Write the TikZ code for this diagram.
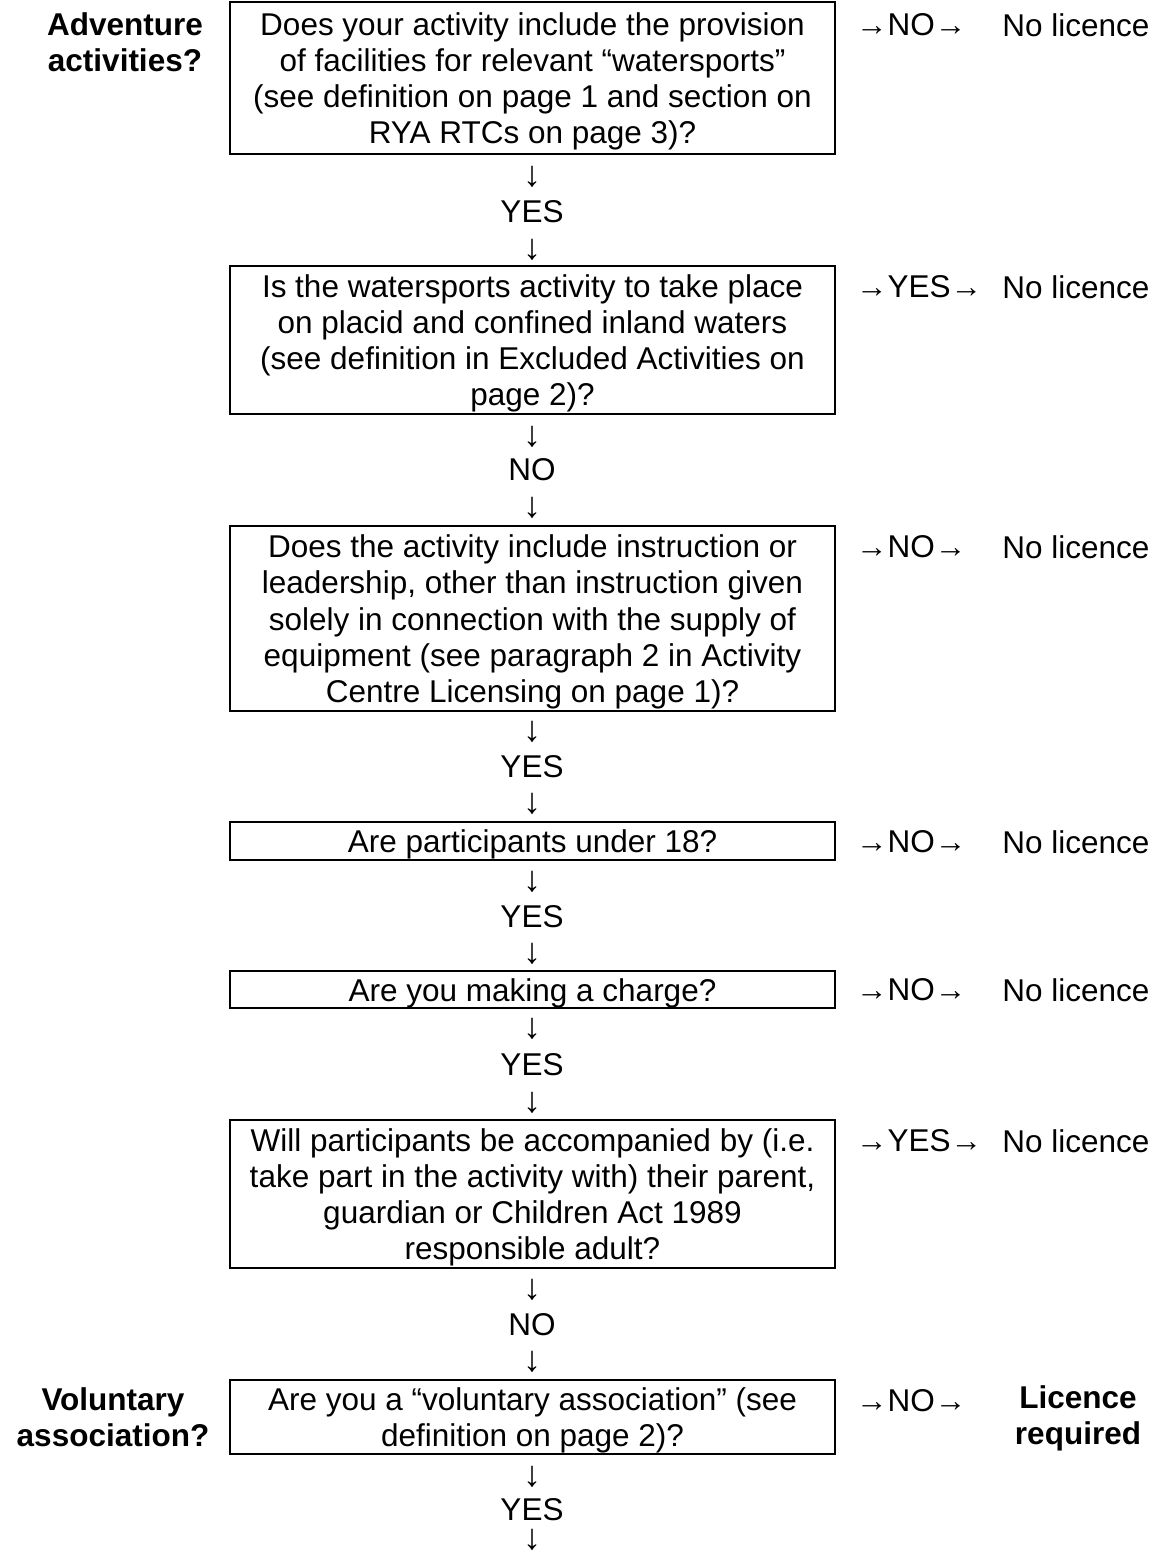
\documentclass[tikz,border=0pt]{standalone}
\usepackage{fontspec}
\setmainfont{Liberation Sans}
\newcommand\mainfs{\fontsize{31.5}{36.2}\selectfont}
\newcommand\downfs{\fontsize{36}{40}\selectfont}
\tikzset{
  qbox/.style={draw=black, line width=2pt, minimum width=605pt, inner sep=0pt},
  qtext/.style={inner sep=0pt, align=center, font=\mainfs, yshift=-3.5pt},
  txt/.style={inner sep=0pt, font=\mainfs},
  darr/.style={inner sep=0pt, font=\downfs},
  side/.style={inner sep=0pt, align=center, font=\mainfs\bfseries},
  arr/.style={inner sep=0pt, anchor=west, font=\mainfs},
  res/.style={inner sep=0pt, align=center, font=\mainfs},
}
\begin{document}
\begin{tikzpicture}[x=1pt,y=-1pt]
\useasboundingbox (0,0) rectangle (1158,1556);
% left labels
\node[side] (s1) at (125,42) {Adventure\\activities?};
\node[side] (s7) at (113,1417) {Voluntary\\association?};
% question boxes
\node[qbox, minimum height=152pt] (q1) at (532.5,78) {};
\node[qtext] (t1) at (q1.center) {Does your activity include the provision\\of facilities for relevant “watersports”\\(see definition on page 1 and section on\\RYA RTCs on page 3)?};
\node[qbox, minimum height=148pt] (q2) at (532.5,340) {};
\node[qtext] (t2) at (q2.center) {Is the watersports activity to take place\\on placid and confined inland waters\\(see definition in Excluded Activities on\\page 2)?};
\node[qbox, minimum height=184.7pt] (q3) at (532.5,618.4) {};
\node[qtext] (t3) at (q3.center) {Does the activity include instruction or\\leadership, other than instruction given\\solely in connection with the supply of\\equipment (see paragraph 2 in Activity\\Centre Licensing on page 1)?};
\node[qbox, minimum height=38.3pt] (q4) at (532.5,840.9) {};
\node[qtext] (t4) at (q4.center) {Are participants under 18?};
\node[qbox, minimum height=37.3pt] (q5) at (532.5,989.4) {};
\node[qtext] (t5) at (q5.center) {Are you making a charge?};
\node[qbox, minimum height=148pt] (q6) at (532.5,1194) {};
\node[qtext] (t6) at (q6.center) {Will participants be accompanied by (i.e.\\take part in the activity with) their parent,\\guardian or Children Act 1989\\responsible adult?};
\node[qbox, minimum height=74pt] (q7) at (532.5,1417) {};
\node[qtext] (t7) at (q7.center) {Are you a “voluntary association” (see\\definition on page 2)?};
% down flow
\node[darr] (d1a) at (532,177) {↓};
\node[txt] (a1) at (532,212) {YES};
\node[darr] (d1b) at (532,250) {↓};
\node[darr] (d2a) at (532,437) {↓};
\node[txt] (a2) at (532,470) {NO};
\node[darr] (d2b) at (532,508) {↓};
\node[darr] (d3a) at (532,732) {↓};
\node[txt] (a3) at (532,767) {YES};
\node[darr] (d3b) at (532,804) {↓};
\node[darr] (d4a) at (532,882) {↓};
\node[txt] (a4) at (532,917) {YES};
\node[darr] (d4b) at (532,954) {↓};
\node[darr] (d5a) at (532,1029) {↓};
\node[txt] (a5) at (532,1065) {YES};
\node[darr] (d5b) at (532,1103) {↓};
\node[darr] (d6a) at (532,1290) {↓};
\node[txt] (a6) at (532,1325) {NO};
\node[darr] (d6b) at (532,1362) {↓};
\node[darr] (d7a) at (532,1477) {↓};
\node[txt] (a7) at (532,1510) {YES};
\node[darr] (d7b) at (532,1540) {↓};
% side exits
\node[arr] (e1) at (856,25) {→NO→};
\node[res] (r1) at (1076,25) {No licence};
\node[arr] (e2) at (856,287) {→YES→};
\node[res] (r2) at (1076,287) {No licence};
\node[arr] (e3) at (856,547) {→NO→};
\node[res] (r3) at (1076,547) {No licence};
\node[arr] (e4) at (856,842) {→NO→};
\node[res] (r4) at (1076,842) {No licence};
\node[arr] (e5) at (856,990) {→NO→};
\node[res] (r5) at (1076,990) {No licence};
\node[arr] (e6) at (856,1141) {→YES→};
\node[res] (r6) at (1076,1141) {No licence};
\node[arr] (e7) at (856,1401) {→NO→};
\node[res, font=\mainfs\bfseries] (r7) at (1078,1418) {Licence\\required};
\end{tikzpicture}
\end{document}
